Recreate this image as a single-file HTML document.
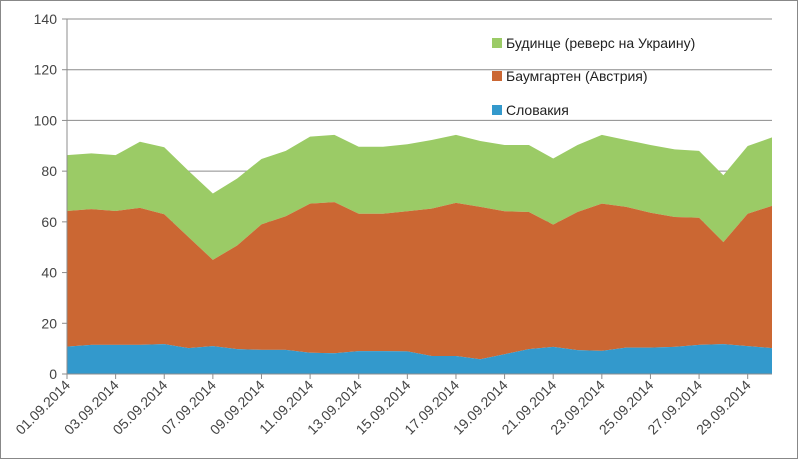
<!DOCTYPE html>
<html><head><meta charset="utf-8"><style>
body{margin:0;background:#fff;}
svg{display:block;font-family:"Liberation Sans","DejaVu Sans",sans-serif;}
</style></head><body>
<svg id="chart" width="800" height="461">
<rect x="0.5" y="0.5" width="797" height="458" fill="#fff" stroke="#888"/>
<g id="grid"></g><g id="areas"></g><g id="axes"></g><g id="legend"></g>
</svg>
<script>
const dates=["01.09.2014","02.09.2014","03.09.2014","04.09.2014","05.09.2014","06.09.2014","07.09.2014","08.09.2014","09.09.2014","10.09.2014","11.09.2014","12.09.2014","13.09.2014","14.09.2014","15.09.2014","16.09.2014","17.09.2014","18.09.2014","19.09.2014","20.09.2014","21.09.2014","22.09.2014","23.09.2014","24.09.2014","25.09.2014","26.09.2014","27.09.2014","28.09.2014","29.09.2014","30.09.2014"];
const slovakia=[10.8,11.5,11.5,11.5,11.8,10.2,11,9.8,9.5,9.5,8.4,8.2,9,9,8.9,7.1,7.1,5.8,7.8,9.8,10.7,9.4,9.1,10.4,10.4,10.7,11.5,11.8,11,10.2];
const baumgarten=[53.5,53.5,52.8,54,51.2,43.8,34,40.9,49.5,52.7,58.8,59.6,54.2,54.2,55.3,58.1,60.4,60.1,56.4,54.1,48.2,54.5,58.1,55.5,53.2,51.2,50.1,40.2,52.2,56.1];
const budince=[22,22,22,26.1,26.4,26.1,26.2,26.4,25.8,25.8,26.4,26.5,26.4,26.4,26.4,27.1,26.8,26,26.1,26.4,26.1,26.4,27.1,26.4,26.7,26.7,26.4,26.4,26.7,27];
const yTicks=[0,20,40,60,80,100,120,140];
const seriesNames=["Будинце (реверс на Украину)","Баумгартен (Австрия)","Словакия"];
const NS="http://www.w3.org/2000/svg";
const X0=67,X1=772,Y0=374,Y1=19,YMAX=140;
const xs=i=>X0+(X1-X0)*i/(dates.length-1);
const ys=v=>Y0-(Y0-Y1)*v/YMAX;
function mk(tag,attrs,parent){const e=document.createElementNS(NS,tag);for(const k in attrs)e.setAttribute(k,attrs[k]);parent.appendChild(e);return e;}
const grid=document.getElementById('grid'),areas=document.getElementById('areas'),axes=document.getElementById('axes'),legend=document.getElementById('legend');
yTicks.forEach(t=>{
 if(t>0){const g=mk('line',{x1:X0,x2:X1,y1:ys(t),y2:ys(t),stroke:'#8c8c8c','stroke-width':1},grid);
 
 }
 const tk=mk('line',{x1:X0-5,x2:X0,y1:ys(t),y2:ys(t),stroke:'#8c8c8c'},axes);
 
 
 const tx=mk('text',{x:X0-10,y:ys(t)+5,'text-anchor':'end','font-size':14,fill:'#444'},axes);
 tx.textContent=t;
 
 
});
const s1=slovakia, s2=slovakia.map((v,i)=>v+baumgarten[i]), s3=s2.map((v,i)=>v+budince[i]);
function area(top,bot,color,name){
 let d='M'+top.map((v,i)=>xs(i)+','+ys(v)).join(' L');
 for(let i=bot.length-1;i>=0;i--)d+=' L'+xs(i)+','+ys(bot[i]);
 const p=mk('path',{d:d+'Z',fill:color},areas);
 
 
}
const zero=dates.map(()=>0);
area(s3,s2,'#9bcb66','area-budince');
area(s2,s1,'#cb6733','area-baumgarten');
area(s1,zero,'#3399cc','area-slovakia');
const ya=mk('line',{x1:X0,x2:X0,y1:Y1,y2:Y0,stroke:'#8c8c8c'},axes);


const xa=mk('line',{x1:X0,x2:X1,y1:Y0,y2:Y0,stroke:'#8c8c8c'},axes);


dates.forEach((d,i)=>{
 if(i%2)return;
 const x=xs(i);
 const tk=mk('line',{x1:x,x2:x,y1:Y0,y2:Y0+5,stroke:'#8c8c8c'},axes);
 
 
 const tx=mk('text',{x:x+4,y:Y0+12,'text-anchor':'end','font-size':14,fill:'#444',transform:'rotate(-45 '+(x+4)+' '+(Y0+12)+')'},axes);
 tx.textContent=d;
 
 
});
const lc=['#9bcb66','#cb6733','#3399cc'],ly=[43,76,110];
seriesNames.forEach((n,i)=>{
 const r=mk('rect',{x:492,y:ly[i]-5,width:10,height:10,fill:lc[i]},legend);
 
 
 const t=mk('text',{x:506,y:ly[i]+5,'font-size':14,fill:'#222'},legend);
 t.textContent=n;
 
 
});
</script>
</body></html>
